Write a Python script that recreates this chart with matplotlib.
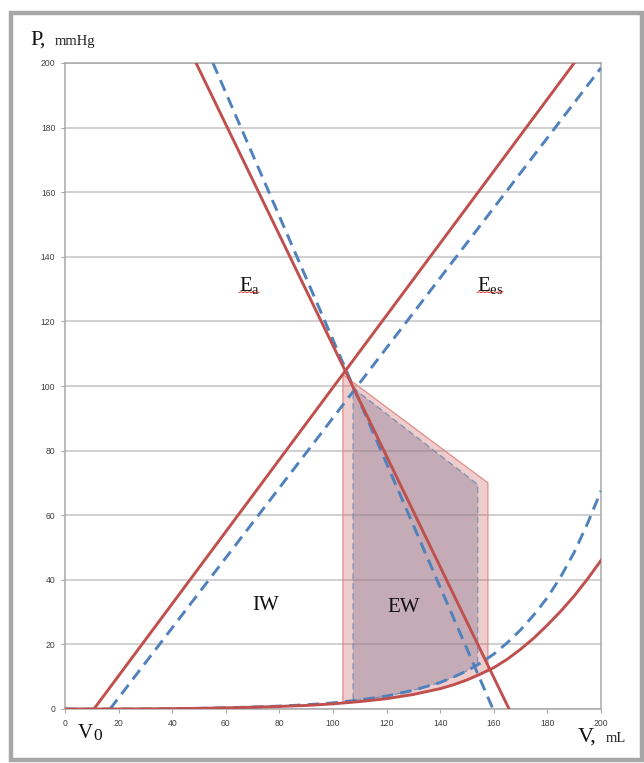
import matplotlib
matplotlib.use("Agg")
import numpy as np
import matplotlib.pyplot as plt
from matplotlib.patches import Rectangle, Polygon

plt.rcParams['mathtext.fontset'] = 'custom'
plt.rcParams['mathtext.rm'] = 'Liberation Serif'
plt.rcParams['mathtext.it'] = 'Liberation Serif'

# ---- data ----
# End-systolic pressure-volume relations (Ees), two states
ees_red_v = [10.8, 190.0]
ees_red_p = [0.0, 200.0]
ees_blue_v = [16.8, 200.0]
ees_blue_p = [0.0, 198.5]

# Arterial elastance lines (Ea)
ea_red_v = [48.9, 165.7]
ea_red_p = [200.0, 0.0]
ea_blue_v = [55.2, 159.7]
ea_blue_p = [200.0, 0.0]

# End-diastolic pressure-volume relations
edp_v = [0, 10, 20, 30, 40, 50, 60, 70, 80, 90, 100, 110, 120, 130, 140, 145,
         150, 155, 160, 165, 170, 175, 180, 185, 190, 195, 200]
edp_red_p = [0, 0, 0, 0.05, 0.1, 0.2, 0.35, 0.55, 0.8, 1.1, 1.6, 2.3, 3.2,
             4.5, 6.3, 7.5, 9.0, 10.8, 12.8, 15.4, 18.5, 22.0, 26.0, 30.3,
             35.0, 40.3, 46.0]
edp_blue_p = [0, 0, 0, 0, 0.1, 0.2, 0.4, 0.6, 0.9, 1.3, 1.9, 2.8, 4.0,
              5.8, 8.2, 9.9, 11.8, 14.2, 17.0, 20.5, 24.5, 29.2, 34.5, 41.0,
              48.5, 57.5, 67.5]

# External work areas (outer: solid state, inner: dashed state)
ew_outer_v = [103.7, 157.8, 157.8, 155, 150, 145, 140, 130, 120, 110, 103.7]
ew_outer_p = [103.5, 70.0, 12.3, 10.8, 9.0, 7.5, 6.3, 4.5, 3.2, 2.3, 1.8]
ew_inner_v = [107.5, 154.0, 154.0, 150, 145, 140, 130, 120, 110, 107.5]
ew_inner_p = [99.4, 69.5, 13.8, 11.8, 9.9, 8.2, 5.8, 4.0, 2.8, 2.5]

x_ticks = [0, 20, 40, 60, 80, 100, 120, 140, 160, 180, 200]
y_ticks = [0, 20, 40, 60, 80, 100, 120, 140, 160, 180, 200]

RED = '#c0504d'
BLUE = '#4f81bd'

fig = plt.figure(figsize=(6.44, 7.63), dpi=100)
W, H = 644, 763
ax = fig.add_axes([65 / W, 1 - 709 / H, (601 - 65) / W, (709 - 63) / H])

# frame around the figure
fig.patches.append(Rectangle((11 / W, 1 - 760 / H), 631 / W, 747 / H,
                             transform=fig.transFigure, fill=False,
                             edgecolor='#a6a6a6', linewidth=3.2))

ax.set_xlim(0, 200)
ax.set_ylim(0, 200)
ax.set_xticks(x_ticks)
ax.set_yticks(y_ticks)
ax.yaxis.grid(True, color='#c4c4c4', linewidth=1.1, zorder=0)
ax.set_axisbelow(True)
for s in ax.spines.values():
    s.set_color('#a8a8a8')
    s.set_linewidth(1.1)
ax.tick_params(axis='both', length=3, width=0.8, color='#a8a8a8',
               labelsize=6.2, labelcolor='#404040', pad=4)
for lab in ax.get_xticklabels() + ax.get_yticklabels():
    lab.set_fontfamily('Liberation Sans')

# work areas
ax.add_patch(Polygon(list(zip(ew_outer_v, ew_outer_p)), closed=True,
                     facecolor=RED, alpha=0.28, edgecolor='none', zorder=1))
ax.add_patch(Polygon(list(zip(ew_outer_v, ew_outer_p)), closed=True,
                     facecolor='none', edgecolor='#e08c8a', linewidth=0.9, zorder=1.2))
ax.add_patch(Polygon(list(zip(ew_inner_v, ew_inner_p)), closed=True,
                     facecolor='#92829a', alpha=0.45, edgecolor='none', zorder=1.3))
ax.add_patch(Polygon(list(zip(ew_inner_v, ew_inner_p)), closed=True,
                     facecolor='none', edgecolor='#7d8fb3', linewidth=0.9,
                     linestyle=(0, (5, 3)), zorder=1.4))

dash = (0, (4, 2.4))
lw = 2.1
kw = dict(solid_joinstyle='round', dash_joinstyle='round')
ax.plot(edp_v, edp_blue_p, color=BLUE, lw=lw, ls=dash, zorder=3, **kw)
ax.plot(edp_v, edp_red_p, color=RED, lw=lw, zorder=3.1, **kw)
ax.plot(ees_blue_v, ees_blue_p, color=BLUE, lw=lw, ls=dash, zorder=3)
ax.plot(ea_blue_v, ea_blue_p, color=BLUE, lw=lw, ls=dash, zorder=3)
ax.plot(ees_red_v, ees_red_p, color=RED, lw=lw, zorder=3.1)
ax.plot(ea_red_v, ea_red_p, color=RED, lw=lw, zorder=3.1)

serif = 'Liberation Serif'
labels = [(68.7, 131, r'$\mathrm{E_a}$', 20), (158.6, 131, r'$\mathrm{E_{es}}$', 26)]
for x, y, s, wpx in labels:
    ax.text(x, y, s, fontsize=15, ha='center', va='center',
            color='#111111', zorder=4)
    # spell-check style wavy underline
    n = int(wpx / 2) + 1
    zx = np.linspace(-wpx / 2, wpx / 2, n)
    zy = np.where(np.arange(n) % 2 == 0, -0.5, 0.5) - 6.3
    base = ax.transData.transform((x, y))
    pts = np.column_stack([zx, zy]) * 0.72 / 72 * fig.dpi + base
    ax.plot(*ax.transData.inverted().transform(pts).T, color='#e02020',
            lw=0.6, zorder=4)

ax.text(75, 31.9, 'IW', fontsize=15, family=serif, ha='center', va='center',
        color='#111111', zorder=4)
ax.text(126.5, 31.3, 'EW', fontsize=15, family=serif, ha='center', va='center',
        color='#111111', zorder=4)

# axis titles
fig.text(30 / W, 1 - 45 / H, 'P,', fontsize=16, family=serif, va='baseline',
         color='#111111')
fig.text(55 / W, 1 - 45 / H, 'mmHg', fontsize=10.5, family=serif, va='baseline',
         color='#222222')
fig.text(78 / W, 1 - 738 / H, 'V', fontsize=15, family=serif, va='baseline',
         color='#111111')
fig.text(93 / W, 1 - 740 / H, '0', fontsize=12.5, family=serif, va='baseline',
         color='#111111')
fig.text(578 / W, 1 - 742 / H, 'V,', fontsize=16, family=serif, va='baseline',
         color='#111111')
fig.text(606 / W, 1 - 742 / H, 'mL', fontsize=10.5, family=serif, va='baseline',
         color='#222222')

fig.savefig('out.png', dpi=100)
